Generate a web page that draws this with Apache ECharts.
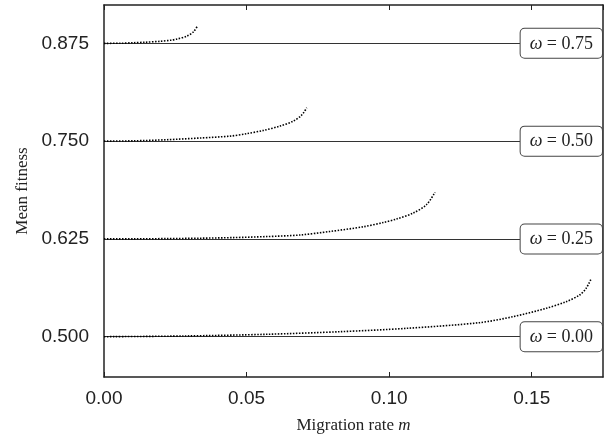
<!DOCTYPE html>
<html><head><meta charset="utf-8">
<script src="https://cdn.jsdelivr.net/npm/echarts@6/dist/echarts.min.js"></script>
<style>html,body{margin:0;padding:0;background:#fff}#c{width:609px;height:441px}</style>
</head><body><div id="c"></div>
<script>
// data
const xTicks = [0, 0.05, 0.10, 0.15];
const yTicks = [0.500, 0.625, 0.750, 0.875];
const omegas = ['0.00', '0.25', '0.50', '0.75'];
const levels = [0.500, 0.625, 0.750, 0.875];

const m000 = [0, 0.0279, 0.0571, 0.0827, 0.1061, 0.1318, 0.1434, 0.1551, 0.1621, 0.1668, 0.1691, 0.1709];
const f000 = [0.5, 0.5009, 0.5031, 0.5064, 0.5107, 0.5180, 0.5256, 0.5363, 0.5448, 0.5533, 0.5619, 0.5746];
const m025 = [0, 0.0104, 0.0221, 0.0337, 0.0454, 0.0571, 0.0687, 0.0792, 0.0909, 0.0980, 0.1026, 0.1084, 0.1131, 0.1161];
const f025 = [0.625, 0.6251, 0.6254, 0.6259, 0.6267, 0.6280, 0.6300, 0.6345, 0.6405, 0.6460, 0.6505, 0.6580, 0.6688, 0.6846];
const m050 = [0, 0.0104, 0.0221, 0.0337, 0.0442, 0.0500, 0.0559, 0.0617, 0.0664, 0.0693, 0.0711];
const f050 = [0.75, 0.7504, 0.7518, 0.7540, 0.7564, 0.7595, 0.7637, 0.7692, 0.7756, 0.7832, 0.7927];
const m075 = [0, 0.0058, 0.0104, 0.0143, 0.0197, 0.0234, 0.0256, 0.0291, 0.0314, 0.0329];
const f075 = [0.875, 0.8751, 0.8758, 0.8764, 0.8776, 0.8790, 0.8805, 0.8843, 0.8898, 0.8980];

const curvesM = [m000, m025, m050, m075];
const curvesF = [f000, f025, f050, f075];

const chart = echarts.init(document.getElementById('c'), null, {renderer: 'canvas'});
const sans = 'Liberation Sans';
const serif = 'Liberation Serif';

const series = curvesM.map((ms, i) => ({
  type: 'line',
  data: ms.map((m, k) => [m, curvesF[i][k]]),
  showSymbol: false,
  smooth: 0.3,
  z: 5,
  lineStyle: {color: '#000', width: 1.6, type: [1.5, 1.5]},
  markLine: {
    silent: true,
    precision: 6,
    symbol: ['none', 'none'],
    z: 3,
    lineStyle: {color: '#333', width: 1, type: 'solid'},
    data: [{yAxis: levels[i]}],
    label: {
      show: true,
      position: 'insideEnd',
      distance: 1,
      formatter: '{w|ω} = ' + omegas[i],
      fontFamily: serif,
      fontSize: 18,
      color: '#222',
      backgroundColor: '#fff',
      borderColor: '#444',
      borderWidth: 1,
      borderRadius: 4,
      padding: [6, 9, 5, 9],
      rich: {w: {fontFamily: serif, fontStyle: 'italic', fontSize: 18, color: '#222'}}
    }
  }
}));

chart.setOption({
  animation: false,
  backgroundColor: '#fff',
  grid: {left: 104, right: 6, top: 5, bottom: 64},
  xAxis: [{
    type: 'value', min: 0, max: 0.175, interval: 0.05,
    position: 'bottom',
    axisLine: {show: true, onZero: false, lineStyle: {color: '#222', width: 1.5}},
    axisTick: {show: true, inside: true, length: 5, lineStyle: {color: '#222', width: 1}},
    axisLabel: {show: true, fontFamily: sans, fontSize: 19, color: '#222', margin: 12,
      showMaxLabel: false, formatter: v => v.toFixed(2)},
    splitLine: {show: false},
    name: '{a|Migration rate }{b|m}', nameLocation: 'middle', nameGap: 40,
    nameTextStyle: {rich: {
      a: {fontFamily: serif, fontSize: 17, color: '#222'},
      b: {fontFamily: serif, fontSize: 17, fontStyle: 'italic', color: '#222'}}}
  }, {
    type: 'value', min: 0, max: 0.175, interval: 0.05,
    position: 'top',
    axisLine: {show: true, onZero: false, lineStyle: {color: '#222', width: 1.5}},
    axisTick: {show: true, inside: true, length: 5, lineStyle: {color: '#222', width: 1}},
    axisLabel: {show: false},
    splitLine: {show: false}
  }],
  yAxis: [{
    type: 'value', min: 0.4485, max: 0.924,
    position: 'left',
    axisLine: {show: true, onZero: false, lineStyle: {color: '#222', width: 1.5}},
    axisTick: {show: true, inside: true, length: 5, customValues: yTicks, lineStyle: {color: '#222'}},
    axisLabel: {show: true, customValues: yTicks, fontFamily: sans, fontSize: 19, color: '#222', margin: 15,
      formatter: v => v.toFixed(3)},
    splitLine: {show: false},
    name: 'Mean fitness', nameLocation: 'middle', nameGap: 72,
    nameTextStyle: {fontFamily: serif, fontSize: 17, color: '#222'}
  }, {
    type: 'value', min: 0.4485, max: 0.924,
    position: 'right',
    axisLine: {show: true, onZero: false, lineStyle: {color: '#222', width: 1.5}},
    axisTick: {show: false},
    axisLabel: {show: false},
    splitLine: {show: false}
  }],
  series: series
});
</script></body></html>
